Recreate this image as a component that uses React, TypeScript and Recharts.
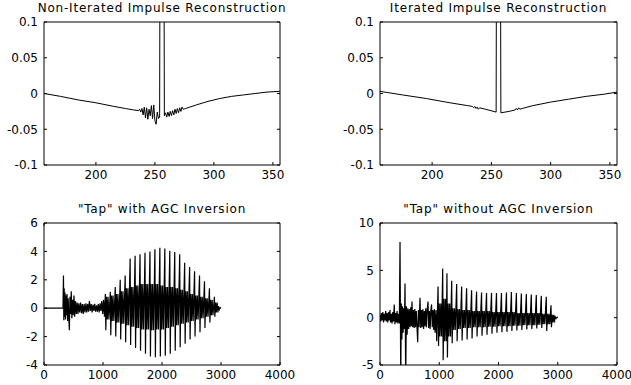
import { LineChart, Line, XAxis, YAxis } from 'recharts'

const FONT = '"DejaVu Sans", sans-serif'

const impulseXTicks = [200, 250, 300, 350]
const impulseYTicks = [-0.1, -0.05, 0, 0.05, 0.1]
const tapXTicks = [0, 1000, 2000, 3000, 4000]
const agcYTicks = [-4, -2, 0, 2, 4, 6]
const noAgcYTicks = [-5, 0, 5, 10]

// sample index, amplitude
const nonIterated: [number, number][] = [
  [156, 0], [170, -0.004], [185, -0.009], [200, -0.013], [215, -0.018], [225, -0.021], [232, -0.023],
  [236, -0.024], [237, -0.022], [238, -0.026], [239, -0.021], [240, -0.03], [241, -0.019], [242, -0.034],
  [243, -0.02], [244, -0.036], [245, -0.022], [246, -0.031], [247, -0.017], [248, -0.035], [249, -0.016],
  [250, -0.038], [251, -0.043], [252, -0.026], [253, -0.035], [254, -0.033], [255, 0.8], [256, 1.0],
  [257, 0.7], [258, -0.031], [259, -0.027], [260, -0.033], [261, -0.026], [262, -0.032], [263, -0.025],
  [264, -0.031], [265, -0.024], [266, -0.03], [267, -0.022], [268, -0.028], [269, -0.021], [270, -0.027],
  [271, -0.02], [272, -0.025], [273, -0.019], [274, -0.022], [276, -0.021], [285, -0.016], [295, -0.011],
  [305, -0.007], [315, -0.004], [325, -0.002], [335, 0.0], [345, 0.002], [356, 0.003],
]

const iterated: [number, number][] = [
  [156, 0.003], [175, -0.002], [195, -0.007], [215, -0.013], [230, -0.017], [234, -0.018], [235, -0.02],
  [236, -0.018], [237, -0.021], [238, -0.019], [239, -0.022], [240, -0.02], [245, -0.022], [254, -0.026],
  [255, 0.8], [256, 1.0], [257, 0.7], [258, -0.027], [265, -0.025], [270, -0.023], [271, -0.021],
  [272, -0.023], [273, -0.02], [274, -0.022], [276, -0.021], [285, -0.017], [300, -0.012], [315, -0.008],
  [330, -0.004], [345, -0.001], [356, 0.002],
]

// "Tap" with AGC inversion: onset noise, then periodic pulses
const agcLead: [number, number][] = [
  [0, 0], [322, 0], [330, 2.3], [336, -0.85], [342, 1.4], [348, -0.6], [356, 1.1], [364, -0.8], [372, 0.9],
  [380, -0.5], [390, 1.0], [400, -0.9], [410, 0.7], [420, -0.6], [430, -1.55], [440, 0.8], [450, -0.4],
  [462, 1.2], [472, -0.7], [485, 0.6], [495, -0.5], [508, 0.9], [520, -0.6], [534, 0.5], [548, -0.4],
  [562, 0.4], [576, -0.4], [590, 0.35], [605, -0.3], [620, 0.4], [635, -0.35], [650, 0.3], [665, -0.4],
  [680, 0.3], [695, -0.3], [710, 0.35], [725, -0.3], [740, 0.3], [755, -0.25], [770, 0.5], [785, -0.2],
  [800, 0.3], [815, -0.3], [830, 0.25], [845, -0.2], [860, 0.3], [875, -0.25], [890, 0.2], [905, -0.25],
  [920, 0.3], [935, -0.3], [950, 0.35], [965, -0.2], [980, 0.5], [995, -0.4], [1010, 0.6], [1025, -0.6],
]
const agcPulseAt = [1040, 1124, 1208, 1292, 1376, 1460, 1544, 1628, 1712, 1796, 1880, 1964, 2048, 2132, 2216, 2300, 2384, 2468, 2552, 2636, 2720, 2804, 2888]
const agcPeak = [1.0, 1.15, 1.5, 2.0, 2.3, 3.5, 3.7, 3.8, 3.9, 4.0, 4.15, 4.25, 4.2, 4.05, 3.95, 3.8, 3.2, 2.9, 2.6, 2.3, 1.9, 1.4, 0.8]
const agcTrough = [-1.55, -1.9, -2.0, -2.2, -2.4, -2.6, -2.8, -3.0, -3.2, -3.4, -3.45, -3.4, -3.35, -3.2, -3.0, -2.75, -2.5, -2.2, -2.0, -1.7, -1.4, -1.0, -0.6]
const agcHi = [0.8, 0.9, 1.0, 1.2, 1.4, 1.5, 1.6, 1.7, 1.7, 1.7, 1.7, 1.6, 1.5, 1.5, 1.4, 1.3, 1.2, 1.0, 0.9, 0.8, 0.7, 0.6, 0.4]
const agcLo = [-0.8, -0.9, -1.0, -1.1, -1.2, -1.3, -1.4, -1.5, -1.5, -1.55, -1.5, -1.5, -1.4, -1.3, -1.2, -1.1, -1.0, -0.9, -0.8, -0.7, -0.6, -0.5, -0.3]
const agcTail: [number, number][] = [[2955, 0.15], [2970, -0.1], [2985, 0.05], [3000, 0]]

// "Tap" without AGC inversion
const noAgcLead: [number, number][] = [
  [0, 0.3], [12, -0.4], [24, 0.5], [36, -0.3], [48, 0.6], [60, -0.5], [72, 0.4], [84, -0.3], [96, 0.7],
  [108, -0.4], [120, 0.5], [132, -0.5], [144, 0.6], [156, -0.3], [168, 0.8], [180, -0.5], [192, 0.4],
  [204, -0.6], [216, 0.6], [228, -0.4], [240, 1.4], [252, -0.7], [264, 0.5], [276, -0.5], [288, 0.7],
  [300, -0.6], [312, 0.4], [326, -0.6], [338, 8.0], [350, -6.5], [360, 1.5], [370, -2.3], [380, 1.2],
  [390, -1.6], [400, 1.0], [412, -1.2], [422, 3.6], [434, -6.5], [446, 1.2], [458, -1.8], [470, 1.0],
  [482, -1.2], [494, 0.9], [506, -1.0], [518, 1.1], [530, -0.9], [540, 1.7], [552, -1.0], [564, 0.8],
  [576, -1.1], [588, 0.9], [600, -1.0], [612, 0.7], [636, -2.6], [648, 0.8], [660, -1.0], [675, 2.1],
  [688, -1.1], [700, 0.8], [712, -1.0], [724, 0.9], [736, -1.2], [748, 0.7], [760, -0.9], [772, 1.0],
  [784, -1.0], [796, 0.8], [810, 1.7], [822, -1.1], [834, 0.7], [846, -1.2], [858, 0.8], [870, 1.4],
  [882, -1.0], [894, 0.8], [906, -1.3], [918, 0.9], [930, -1.6], [945, 0.8], [957, -2.5],
]
const noAgcPulseAt = [980, 1058, 1130, 1210, 1294, 1378, 1462, 1546, 1630, 1714, 1798, 1882, 1966, 2050, 2134, 2218, 2302, 2386, 2470, 2554, 2638, 2722, 2806, 2886]
const noAgcPeak = [3.3, 5.2, 4.7, 3.9, 3.55, 3.3, 3.1, 2.9, 2.75, 2.65, 2.6, 2.6, 2.6, 2.6, 2.65, 2.7, 2.6, 2.55, 2.5, 2.45, 2.4, 2.3, 2.2, 1.3]
const noAgcTrough = [-3.0, -4.5, -4.2, -2.7, -2.5, -2.4, -2.3, -2.2, -2.0, -1.9, -1.8, -1.7, -1.6, -1.55, -1.5, -1.4, -1.35, -1.3, -1.25, -1.2, -1.15, -1.1, -1.4, -1.0]
const noAgcHi = [1.5, 2.0, 1.5, 1.0, 0.9, 0.8, 0.8, 0.7, 0.7, 0.7, 0.7, 0.6, 0.6, 0.6, 0.6, 0.6, 0.5, 0.5, 0.5, 0.5, 0.5, 0.4, 0.4, 0.3]
const noAgcLo = [-2.0, -2.5, -2.0, -1.3, -1.2, -1.1, -1.1, -1.0, -1.0, -1.0, -0.95, -0.95, -0.9, -0.9, -0.9, -0.85, -0.85, -0.8, -0.8, -0.8, -0.75, -0.7, -0.7, -0.5]
const noAgcTail: [number, number][] = [[2950, 0.2], [2970, -0.1], [2990, 0.05], [3000, 0]]

type Pt = { x: number; y: number }

const toPoints = (pairs: [number, number][]): Pt[] => pairs.map(([x, y]) => ({ x, y }))

function buildTap(
  lead: [number, number][],
  at: number[],
  peak: number[],
  trough: number[],
  hi: number[],
  lo: number[],
  tail: [number, number][],
): Pt[] {
  const out = toPoints(lead)
  at.forEach((t, i) => {
    out.push(
      { x: t, y: peak[i] },
      { x: t + 8, y: trough[i] },
      { x: t + 20, y: hi[i] },
      { x: t + 32, y: lo[i] },
      { x: t + 46, y: hi[i] },
      { x: t + 60, y: lo[i] },
    )
  })
  return out.concat(toPoints(tail))
}

const agcData = buildTap(agcLead, agcPulseAt, agcPeak, agcTrough, agcHi, agcLo, agcTail)
const noAgcData = buildTap(noAgcLead, noAgcPulseAt, noAgcPeak, noAgcTrough, noAgcHi, noAgcLo, noAgcTail)

const tickStyle = { fill: '#000', fontSize: 12, fontFamily: FONT }

interface PanelProps {
  title: string
  data: Pt[]
  left: number
  top: number
  width: number
  height: number
  xDomain: [number, number]
  xTicks: number[]
  yDomain: [number, number]
  yTicks: number[]
  padR?: number
  lineWidth?: number
}

function Panel({ title, data, left, top, width, height, xDomain, xTicks, yDomain, yTicks, padR = 22, lineWidth = 1 }: PanelProps) {
  const padL = 50
  const padT = 22
  const padB = 26
  return (
    <div style={{ position: 'absolute', left: left - padL, top: top - padT }}>
      <div
        style={{
          position: 'absolute',
          left: padL - 60,
          top: 2,
          width: width + 120,
          textAlign: 'center',
          fontFamily: FONT,
          fontSize: 12,
          lineHeight: '12px',
          letterSpacing: 0.8,
          whiteSpace: 'nowrap',
        }}
      >
        {title}
      </div>
      <LineChart
        width={width + padL + padR}
        height={height + padT + padB}
        data={data}
        margin={{ top: padT - 1, right: padR - 1, bottom: 0, left: 0 }}
      >
        <XAxis
          xAxisId="b"
          dataKey="x"
          type="number"
          domain={xDomain}
          ticks={xTicks}
          interval={0}
          allowDataOverflow
          height={padB}
          tickSize={-3}
          tickMargin={8}
          stroke="#000"
          tick={tickStyle}
        />
        <XAxis
          xAxisId="t"
          orientation="top"
          type="number"
          domain={xDomain}
          ticks={xTicks}
          interval={0}
          allowDataOverflow
          height={1}
          tickSize={-3}
          tickFormatter={() => ''}
          stroke="#000"
        />
        <YAxis
          yAxisId="l"
          type="number"
          domain={yDomain}
          ticks={yTicks}
          interval={0}
          allowDataOverflow
          width={padL}
          tickSize={-3}
          tickMargin={9}
          stroke="#000"
          tick={tickStyle}
        />
        <YAxis
          yAxisId="r"
          orientation="right"
          type="number"
          domain={yDomain}
          ticks={yTicks}
          interval={0}
          allowDataOverflow
          width={1}
          tickSize={-3}
          tickFormatter={() => ''}
          stroke="#000"
        />
        <Line
          xAxisId="b"
          yAxisId="l"
          dataKey="y"
          type="linear"
          stroke="#000"
          strokeWidth={lineWidth}
          dot={false}
          isAnimationActive={false}
        />
      </LineChart>
    </div>
  )
}

export default function App() {
  return (
    <div
      style={{
        position: 'absolute',
        left: 0,
        top: 0,
        width: 631,
        height: 385,
        overflow: 'hidden',
        background: '#fff',
      }}
    >
      <Panel
        title="Non-Iterated Impulse Reconstruction"
        data={toPoints(nonIterated)}
        left={44}
        top={22}
        width={236}
        height={143}
        xDomain={[156, 356]}
        xTicks={impulseXTicks}
        yDomain={[-0.1, 0.1]}
        yTicks={impulseYTicks}
      />
      <Panel
        title="Iterated Impulse Reconstruction"
        data={toPoints(iterated)}
        left={380}
        top={22}
        width={237}
        height={143}
        xDomain={[156, 356]}
        xTicks={impulseXTicks}
        yDomain={[-0.1, 0.1]}
        yTicks={impulseYTicks}
        padR={14}
      />
      <Panel
        title={'"Tap" with AGC Inversion'}
        data={agcData}
        left={44}
        top={223}
        width={236}
        height={142}
        xDomain={[0, 4000]}
        xTicks={tapXTicks}
        yDomain={[-4, 6]}
        yTicks={agcYTicks}
        lineWidth={1.2}
      />
      <Panel
        title={'"Tap" without AGC Inversion'}
        data={noAgcData}
        left={380}
        top={223}
        width={237}
        height={142}
        xDomain={[0, 4000]}
        xTicks={tapXTicks}
        yDomain={[-5, 10]}
        yTicks={noAgcYTicks}
        padR={14}
        lineWidth={1.2}
      />
    </div>
  )
}
